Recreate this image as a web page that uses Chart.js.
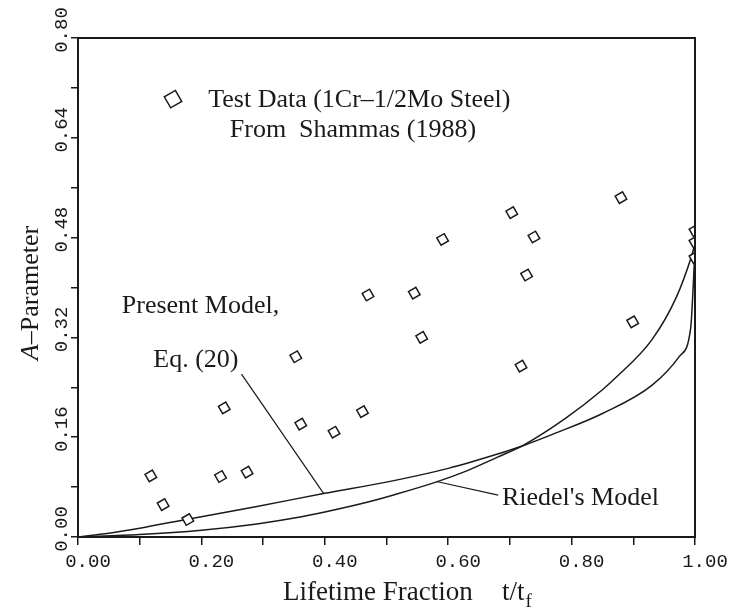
<!DOCTYPE html>
<html>
<head>
<meta charset="utf-8">
<script src="https://cdn.jsdelivr.net/npm/chart.js@4.4.0/dist/chart.umd.min.js"></script>
<style>
  body { margin: 0; background: #fff; }
  #wrap { width: 736px; height: 614px; }
</style>
</head>
<body>
<div id="wrap"><canvas id="chart"></canvas></div>
<script>
// test data (1Cr-1/2Mo steel), Shammas (1988)
const testX = [0.118, 0.138, 0.178, 0.231, 0.237, 0.274, 0.353, 0.361, 0.415, 0.461, 0.470, 0.545,
               0.557, 0.591, 0.703, 0.718, 0.727, 0.739, 0.880, 0.899, 1.0, 1.0, 1.0];
const testY = [0.098, 0.052, 0.028, 0.097, 0.207, 0.104, 0.289, 0.181, 0.168, 0.201, 0.388, 0.391,
               0.320, 0.477, 0.520, 0.274, 0.420, 0.481, 0.544, 0.345, 0.491, 0.473, 0.448];

// present model, Eq. (20)
const presentX = [0, 0.05, 0.10, 0.18, 0.29, 0.40, 0.51, 0.60, 0.68, 0.72, 0.77, 0.85, 0.93, 0.975, 0.993, 0.997, 1.0];
const presentY = [0, 0.006, 0.014, 0.029, 0.049, 0.070, 0.090, 0.110, 0.133, 0.146, 0.165, 0.198, 0.243, 0.290, 0.335, 0.400, 0.465];

// Riedel's model
const riedelX = [0, 0.10, 0.20, 0.29, 0.36, 0.40, 0.47, 0.51, 0.58, 0.63, 0.68, 0.72, 0.79, 0.85, 0.87, 0.93, 0.97, 0.994, 1.0];
const riedelY = [0, 0.004, 0.011, 0.021, 0.032, 0.040, 0.056, 0.067, 0.088, 0.106, 0.128, 0.146, 0.190, 0.236, 0.254, 0.316, 0.385, 0.449, 0.470];

const xTickLabels = ["0.00", "0.20", "0.40", "0.60", "0.80", "1.00"];
const yTickValues = [0, 0.16, 0.32, 0.48, 0.64, 0.80];
const yTickLabels = ["0.00", "0.16", "0.32", "0.48", "0.64", "0.80"];

const ink = "#1a1a1a";
const serif = "'Liberation Serif', 'Times New Roman', serif";
const mono = "'Liberation Mono', 'DejaVu Sans Mono', monospace";

const toPoints = (xs, ys) => xs.map((x, i) => ({ x: x, y: ys[i] }));

function diamond(ctx, cx, cy, r, rot) {
    ctx.save();
    ctx.translate(cx, cy);
    ctx.rotate(rot * Math.PI / 180);
    ctx.beginPath();
    ctx.moveTo(0, -r);
    ctx.lineTo(r, 0);
    ctx.lineTo(0, r);
    ctx.lineTo(-r, 0);
    ctx.closePath();
    ctx.fillStyle = "#fff";
    ctx.fill();
    ctx.stroke();
    ctx.restore();
}

const overlay = {
    id: "overlay",
    afterDraw(chart) {
        const { ctx, chartArea: a, scales: { x, y } } = chart;
        const px = (v) => x.getPixelForValue(v);
        const py = (v) => y.getPixelForValue(v);
        ctx.save();

        // box round the plot
        ctx.strokeStyle = ink;
        ctx.lineWidth = 2;
        ctx.strokeRect(a.left, a.top, a.right - a.left, a.bottom - a.top);

        // y tick labels, turned up the axis
        ctx.fillStyle = ink;
        ctx.font = "19px " + mono;
        ctx.textAlign = "center";
        ctx.textBaseline = "middle";
        yTickValues.forEach((v, i) => {
            ctx.save();
            ctx.translate(a.left - 16, py(v) - 8);
            ctx.rotate(-Math.PI / 2);
            ctx.fillText(yTickLabels[i], 0, 0);
            ctx.restore();
        });

        // axis titles
        ctx.textAlign = "left";
        ctx.textBaseline = "alphabetic";
        ctx.font = "27px " + serif;
        ctx.fillText("Lifetime Fraction", a.left + 205, a.bottom + 63);
        ctx.fillText("t/t", a.left + 424, a.bottom + 63);
        const tw = ctx.measureText("t/t").width;
        ctx.font = "19px " + serif;
        ctx.fillText("f", a.left + 424 + tw + 1, a.bottom + 70);

        ctx.save();
        ctx.translate(38, 293);
        ctx.rotate(-Math.PI / 2);
        ctx.font = "italic 26px " + serif;
        const wA = ctx.measureText("A").width;
        ctx.font = "26px " + serif;
        const wRest = ctx.measureText("\u2013Parameter").width;
        const start = -(wA + wRest) / 2;
        ctx.font = "italic 26px " + serif;
        ctx.fillText("A", start, 0);
        ctx.font = "26px " + serif;
        ctx.fillText("\u2013Parameter", start + wA, 0);
        ctx.restore();

        // notes inside the plot
        ctx.font = "26px " + serif;
        ctx.fillText("Test Data (1Cr\u20131/2Mo Steel)", px(0.211), py(0.689));
        ctx.fillText("From  Shammas (1988)", px(0.246), py(0.641));
        ctx.fillText("Present Model,", px(0.071), py(0.359));
        ctx.fillText("Eq. (20)", px(0.122), py(0.273));
        ctx.fillText("Riedel's Model", px(0.687), py(0.051));

        ctx.lineWidth = 1.5;
        diamond(ctx, px(0.154), py(0.702), 9, 15);

        // leader lines
        ctx.lineWidth = 1.2;
        ctx.beginPath();
        ctx.moveTo(px(0.265), py(0.261));
        ctx.lineTo(px(0.398), py(0.070));
        ctx.moveTo(px(0.681), py(0.067));
        ctx.lineTo(px(0.581), py(0.089));
        ctx.stroke();

        ctx.restore();
    }
};

new Chart(document.getElementById("chart"), {
    type: "scatter",
    data: {
        datasets: [
            {
                label: "Test Data",
                data: toPoints(testX, testY),
                pointStyle: "rectRot",
                pointRadius: 6,
                pointRotation: 15,
                pointBorderWidth: 1.5,
                borderColor: ink,
                backgroundColor: "#fff",
            },
            {
                type: "line",
                label: "Present Model",
                data: toPoints(presentX, presentY),
                borderColor: ink,
                borderWidth: 1.5,
                pointRadius: 0,
                cubicInterpolationMode: "monotone",
                fill: false,
            },
            {
                type: "line",
                label: "Riedel's Model",
                data: toPoints(riedelX, riedelY),
                borderColor: ink,
                borderWidth: 1.5,
                pointRadius: 0,
                cubicInterpolationMode: "monotone",
                fill: false,
            },
        ],
    },
    options: {
        responsive: true,
        maintainAspectRatio: false,
        animation: false,
        layout: {
            padding: { top: 38, right: 41, left: 0, bottom: 0 },
        },
        plugins: {
            legend: { display: false },
            tooltip: { enabled: false },
        },
        scales: {
            x: {
                type: "linear",
                min: 0,
                max: 1,
                afterFit: (s) => { s.height = 77; },
                border: { display: true, color: ink, width: 2 },
                grid: { drawOnChartArea: false, drawTicks: true, tickLength: 8, color: ink, lineWidth: 1.5 },
                ticks: {
                    stepSize: 0.1,
                    autoSkip: false,
                    maxRotation: 0,
                    padding: 6,
                    labelOffset: 10,
                    color: ink,
                    font: { family: mono, size: 19 },
                    callback: (v, i) => (i % 2 ? "" : xTickLabels[i / 2]),
                },
            },
            y: {
                type: "linear",
                min: 0,
                max: 0.8,
                afterFit: (s) => { s.width = 78; },
                border: { display: true, color: ink, width: 2 },
                grid: { drawOnChartArea: false, drawTicks: true, tickLength: 7, color: ink, lineWidth: 1.5 },
                ticks: { stepSize: 0.08, display: false },
            },
        },
    },
    plugins: [overlay],
});
</script>
</body>
</html>
